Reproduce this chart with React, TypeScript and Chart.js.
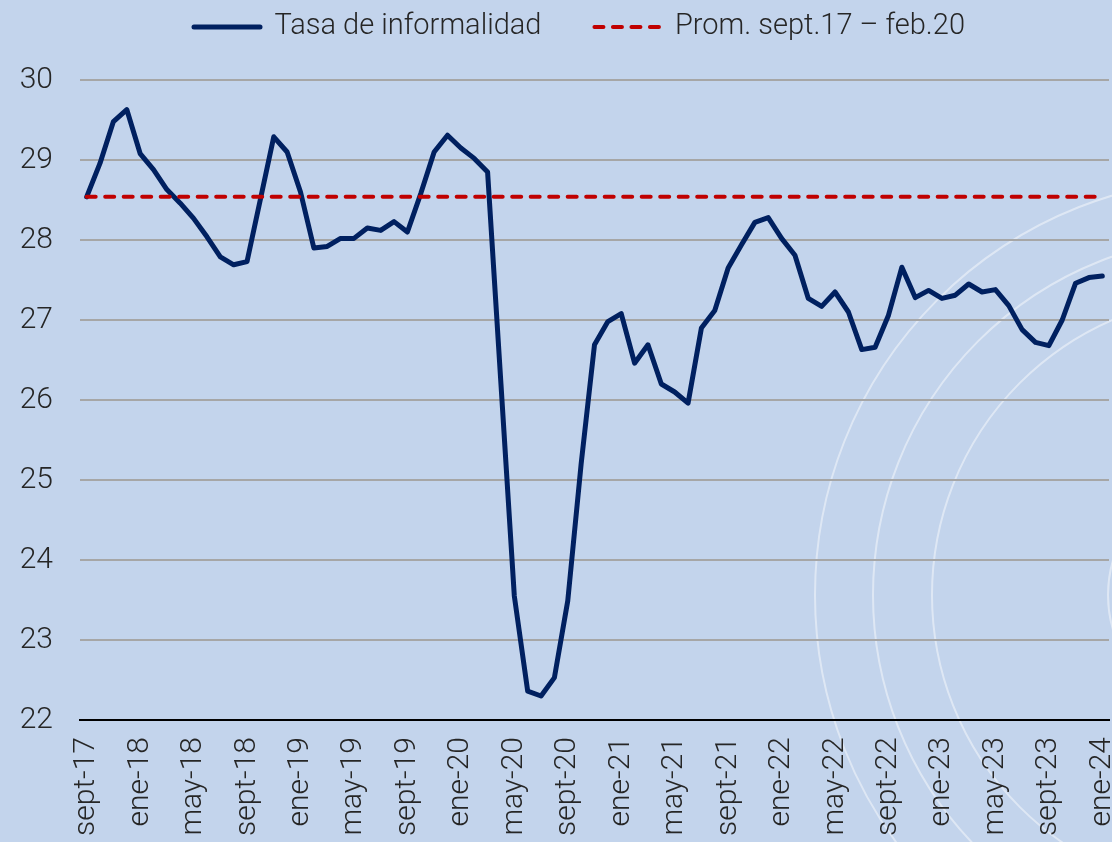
import React, { useEffect, useRef } from "react";
import { Chart, registerables } from "chart.js";

Chart.register(...registerables);

// ---- Data ----
const categories: string[] = [
  "sept-17", "oct-17", "nov-17", "dic-17",
  "ene-18", "feb-18", "mar-18", "abr-18", "may-18", "jun-18", "jul-18", "ago-18", "sept-18", "oct-18", "nov-18", "dic-18",
  "ene-19", "feb-19", "mar-19", "abr-19", "may-19", "jun-19", "jul-19", "ago-19", "sept-19", "oct-19", "nov-19", "dic-19",
  "ene-20", "feb-20", "mar-20", "abr-20", "may-20", "jun-20", "jul-20", "ago-20", "sept-20", "oct-20", "nov-20", "dic-20",
  "ene-21", "feb-21", "mar-21", "abr-21", "may-21", "jun-21", "jul-21", "ago-21", "sept-21", "oct-21", "nov-21", "dic-21",
  "ene-22", "feb-22", "mar-22", "abr-22", "may-22", "jun-22", "jul-22", "ago-22", "sept-22", "oct-22", "nov-22", "dic-22",
  "ene-23", "feb-23", "mar-23", "abr-23", "may-23", "jun-23", "jul-23", "ago-23", "sept-23", "oct-23", "nov-23", "dic-23",
  "ene-24",
];

const tasaInformalidad: number[] = [
  28.54, 28.96, 29.48, 29.63, 29.08, 28.88, 28.63, 28.46, 28.27, 28.04,
  27.79, 27.69, 27.73, 28.51, 29.29, 29.10, 28.60, 27.90, 27.92, 28.02,
  28.02, 28.15, 28.12, 28.23, 28.10, 28.58, 29.10, 29.31, 29.15, 29.02,
  28.85, 26.20, 23.55, 22.36, 22.30, 22.53, 23.49, 25.20, 26.69, 26.98,
  27.08, 26.46, 26.69, 26.20, 26.10, 25.96, 26.90, 27.12, 27.65, 27.94,
  28.22, 28.28, 28.02, 27.81, 27.27, 27.17, 27.35, 27.10, 26.63, 26.66,
  27.06, 27.66, 27.28, 27.37, 27.27, 27.31, 27.45, 27.35, 27.38, 27.18,
  26.88, 26.72, 26.68, 27.00, 27.46, 27.53, 27.55,
];

const PROMEDIO_SEPT17_FEB20 = 28.54;
const promedio: number[] = categories.map(() => PROMEDIO_SEPT17_FEB20);

const seriesLabels = ["Tasa de informalidad", "Prom. sept.17 – feb.20"];
const TICK_EVERY = 4;
const Y_MIN = 22;
const Y_MAX = 30;

// ---- Style ----
const BG = "#C3D4EC";
const NAVY = "#002060";
const RED = "#C00000";
const GRID = "#A6A6A6";
const TEXT = "#262626";
const FONT_FAMILY = "Roboto, 'Liberation Sans', Arial, sans-serif";
const LEGEND_FONT_SIZE = 29;
const LEGEND_PADDING = 53;
const LEGEND_CENTER_Y = 27;
const LEGEND_SHIFT_X = 25;

const backgroundPlugin = {
  id: "backgroundArcs",
  beforeDraw(chart: any) {
    const { ctx, width, height } = chart;
    ctx.save();
    ctx.fillStyle = BG;
    ctx.fillRect(0, 0, width, height);
    ctx.strokeStyle = "rgba(255,255,255,0.45)";
    ctx.lineWidth = 2;
    const cx = 1232;
    const cy = 595;
    for (const r of [124, 300, 359, 417]) {
      ctx.beginPath();
      ctx.arc(cx, cy, r, 0, Math.PI * 2);
      ctx.stroke();
    }
    ctx.restore();
  },
};

const legendPlacement = {
  id: "legendPlacement",
  beforeLayout(chart: any) {
    const lg = chart.legend;
    if (lg && !lg._patchedFit) {
      const orig = lg.fit;
      lg.fit = function () {
        orig.call(this);
        this.height = 80;
      };
      lg._patchedFit = true;
    }
  },
  afterLayout(chart: any) {
    const lg = chart.legend;
    if (lg) {
      lg.top = LEGEND_CENTER_Y - LEGEND_PADDING - LEGEND_FONT_SIZE / 2;
      lg.left += LEGEND_SHIFT_X;
      lg.right += LEGEND_SHIFT_X;
    }
  },
};

export default function App() {
  const canvasRef = useRef<HTMLCanvasElement | null>(null);

  useEffect(() => {
    document.body.style.margin = "0";
    const canvas = canvasRef.current;
    if (!canvas) return;
    const tickFont = { family: FONT_FAMILY, size: 30, weight: "300" as any };
    const legendFont = { family: FONT_FAMILY, size: LEGEND_FONT_SIZE, weight: "300" as any };
    const defaultGen = (Chart.defaults as any).plugins.legend.labels.generateLabels;

    const chart = new Chart(canvas, {
      type: "line",
      data: {
        labels: categories,
        datasets: [
          {
            label: seriesLabels[0],
            data: tasaInformalidad,
            borderColor: NAVY,
            backgroundColor: NAVY,
            borderWidth: 5,
            pointRadius: 0,
            pointStyle: "line",
            tension: 0,
            borderJoinStyle: "round",
            borderCapStyle: "round",
            order: 1,
          },
          {
            label: seriesLabels[1],
            data: promedio,
            borderColor: RED,
            backgroundColor: RED,
            borderWidth: 4,
            borderDash: [9, 9.5],
            borderCapStyle: "round",
            pointRadius: 0,
            pointStyle: "line",
            tension: 0,
            order: 0,
          },
        ],
      },
      options: {
        animation: false,
        responsive: false,
        devicePixelRatio: 1,
        layout: { padding: { top: 0, left: 0, right: 3, bottom: 0 } },
        plugins: {
          tooltip: { enabled: false },
          legend: {
            position: "top",
            align: "center",
            labels: {
              usePointStyle: true,
              pointStyle: "line",
              pointStyleWidth: 66,
              padding: LEGEND_PADDING,
              font: legendFont,
              color: TEXT,
              sort: (a: any, b: any) => a.datasetIndex - b.datasetIndex,
              generateLabels: (ch: any) => {
                const items = defaultGen(ch);
                items.forEach((it: any) => {
                  const ds = ch.data.datasets[it.datasetIndex];
                  it.lineWidth = ds.borderWidth;
                  it.lineDash = ds.borderDash || [];
                  it.lineCap = ds.borderCapStyle || "butt";
                  it.strokeStyle = ds.borderColor;
                  it.fillStyle = ds.borderColor;
                  it.pointStyle = "line";
                });
                return items;
              },
            },
          },
        },
        scales: {
          x: {
            type: "category",
            offset: true,
            grid: { display: false, drawTicks: false },
            border: { display: true, color: "#000000", width: 2 },
            ticks: {
              autoSkip: false,
              minRotation: 90,
              maxRotation: 90,
              padding: 17,
              font: tickFont,
              color: TEXT,
              callback: (_v: any, i: number) => (i % TICK_EVERY === 0 ? categories[i] : ""),
            },
            afterFit: (scale: any) => {
              scale.height = 122;
              scale.paddingLeft = 0;
              scale.paddingRight = 0;
            },
          },
          y: {
            min: Y_MIN,
            max: Y_MAX,
            grid: { color: GRID, lineWidth: 2, drawTicks: false },
            border: { display: false },
            ticks: {
              stepSize: 1,
              padding: 27,
              font: tickFont,
              color: TEXT,
            },
            afterFit: (scale: any) => {
              scale.width = 80;
            },
          },
        },
      },
      plugins: [backgroundPlugin, legendPlacement],
    } as any);

    return () => chart.destroy();
  }, []);

  return (
    <div style={{ width: 1112, height: 842, background: BG }}>
      <canvas ref={canvasRef} width={1112} height={842} style={{ display: "block" }} />
    </div>
  );
}
